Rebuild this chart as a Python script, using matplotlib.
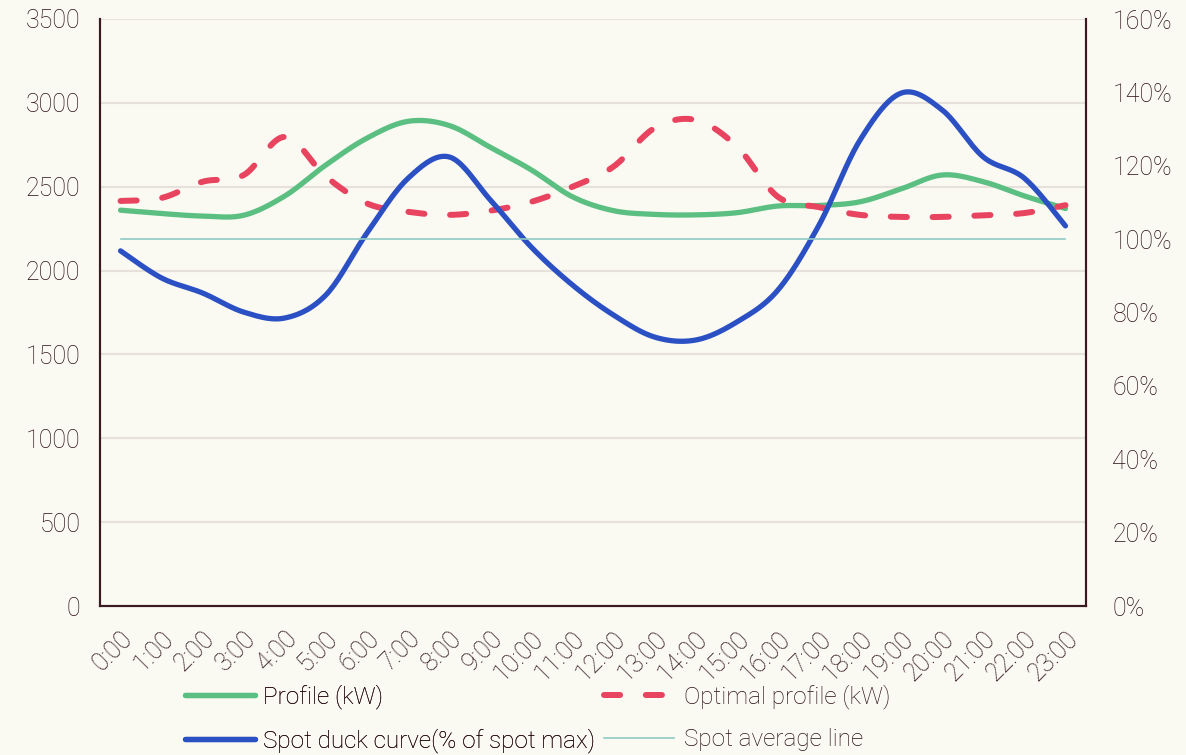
import numpy as np
import matplotlib
matplotlib.use("Agg")
import matplotlib.pyplot as plt
from matplotlib.ticker import FuncFormatter, MultipleLocator

# 数据
hours = [f"{h}:00" for h in range(24)]
profile_kw = [2360, 2340, 2325, 2330, 2445, 2630, 2790, 2890, 2865, 2735,
              2600, 2440, 2357, 2335, 2332, 2345, 2385, 2388, 2410, 2487,
              2570, 2530, 2445, 2370]
optimal_kw = [2415, 2433, 2530, 2570, 2797, 2560, 2400, 2350, 2332, 2357,
              2410, 2500, 2620, 2850, 2898, 2740, 2440, 2378, 2332, 2320,
              2320, 2330, 2343, 2390]
spot_pct = [96.8, 89.4, 85.3, 80.1, 78.5, 84.8, 101.7, 116.6, 122.4, 110.7,
            97.8, 87.5, 79.3, 73.3, 72.5, 77.4, 86.1, 103.8, 127.0, 139.8,
            135.2, 122.4, 116.6, 103.6]
spot_avg_pct = [100.0] * 24

BG = "#faf9f2"
TXT = "#2a0f15"
SPINE = "#3a1a20"
GRID = "#e6e1da"
GREEN = "#5bbf82"
RED = "#e8435f"
BLUE = "#2b50c4"
TEAL = "#8fcac6"

plt.rcParams["font.family"] = ["Roboto", "DejaVu Sans"]
plt.rcParams["font.weight"] = "light"


def smooth(y, n=20):
    # Excel风格平滑线 (Catmull-Rom)
    y = np.asarray(y, dtype=float)
    x = np.arange(len(y), dtype=float)
    xp = np.concatenate([[x[0]], x, [x[-1]]])
    yp = np.concatenate([[y[0]], y, [y[-1]]])
    xs, ys = [], []
    t = np.linspace(0, 1, n, endpoint=False)
    for i in range(1, len(xp) - 2):
        for arr, out in ((xp, xs), (yp, ys)):
            p0, p1, p2, p3 = arr[i - 1], arr[i], arr[i + 1], arr[i + 2]
            c1 = p1 + (p2 - p0) / 6
            c2 = p2 - (p3 - p1) / 6
            out.extend((1 - t) ** 3 * p1 + 3 * (1 - t) ** 2 * t * c1
                       + 3 * (1 - t) * t ** 2 * c2 + t ** 3 * p2)
    xs.append(x[-1])
    ys.append(y[-1])
    return np.array(xs), np.array(ys)


fig = plt.figure(figsize=(11.86, 7.55), dpi=100, facecolor=BG)
ax = fig.add_axes([100 / 1186, 1 - 606 / 755, 986 / 1186, 587 / 755])
ax.set_facecolor(BG)
ax2 = ax.twinx()

ax.set_ylim(0, 3500)
ax.yaxis.set_major_locator(MultipleLocator(500))
ax2.set_ylim(0, 160)
ax2.yaxis.set_major_locator(MultipleLocator(20))
ax2.yaxis.set_major_formatter(FuncFormatter(lambda v, p: f"{v:.0f}%"))
ax.set_xlim(-0.5, 23.5)
ax.set_xticks(range(24))
ax.set_xticklabels(hours, rotation=45, ha="right", rotation_mode="anchor")

ax.grid(axis="y", color=GRID, linewidth=1.5)
ax.set_axisbelow(True)
for a in (ax, ax2):
    a.spines["top"].set_visible(False)
    for s in ("left", "right", "bottom"):
        a.spines[s].set_color(SPINE)
        a.spines[s].set_linewidth(1.5)
    a.tick_params(length=0, labelsize=18, labelcolor=TXT)
ax.tick_params(axis="y", pad=14)
ax2.tick_params(axis="y", pad=19)
ax.tick_params(axis="x", pad=15)

h_prof = ax.plot(*smooth(profile_kw), color=GREEN, lw=3.8,
                 solid_capstyle="round", label="Profile (kW)")[0]
h_opt = ax.plot(*smooth(optimal_kw), color=RED, lw=4.3, dashes=(2.7, 4.3),
                dash_capstyle="round", label="Optimal profile (kW)")[0]
h_spot = ax2.plot(*smooth(spot_pct), color=BLUE, lw=3.8,
                  solid_capstyle="round",
                  label="Spot duck curve(% of spot max)")[0]
h_avg = ax2.plot(range(24), spot_avg_pct, color=TEAL, lw=1.2,
                 label="Spot average line")[0]

# 图例: 两列分开放
leg_kw = dict(loc="upper left", frameon=False, fontsize=17.5, labelcolor=TXT,
              handlelength=2.9, labelspacing=0.8, borderpad=0,
              borderaxespad=0)
leg1 = fig.legend(handles=[h_prof, h_spot], handletextpad=0.29,
                  bbox_to_anchor=(185 / 1186, 1 - 684 / 755), **leg_kw)
fig.legend(handles=[h_opt, h_avg], handletextpad=0.4,
           bbox_to_anchor=(604 / 1186, 1 - 684 / 755), **leg_kw)
fig.add_artist(leg1)

fig.savefig("out.png", dpi=100, facecolor=BG)
